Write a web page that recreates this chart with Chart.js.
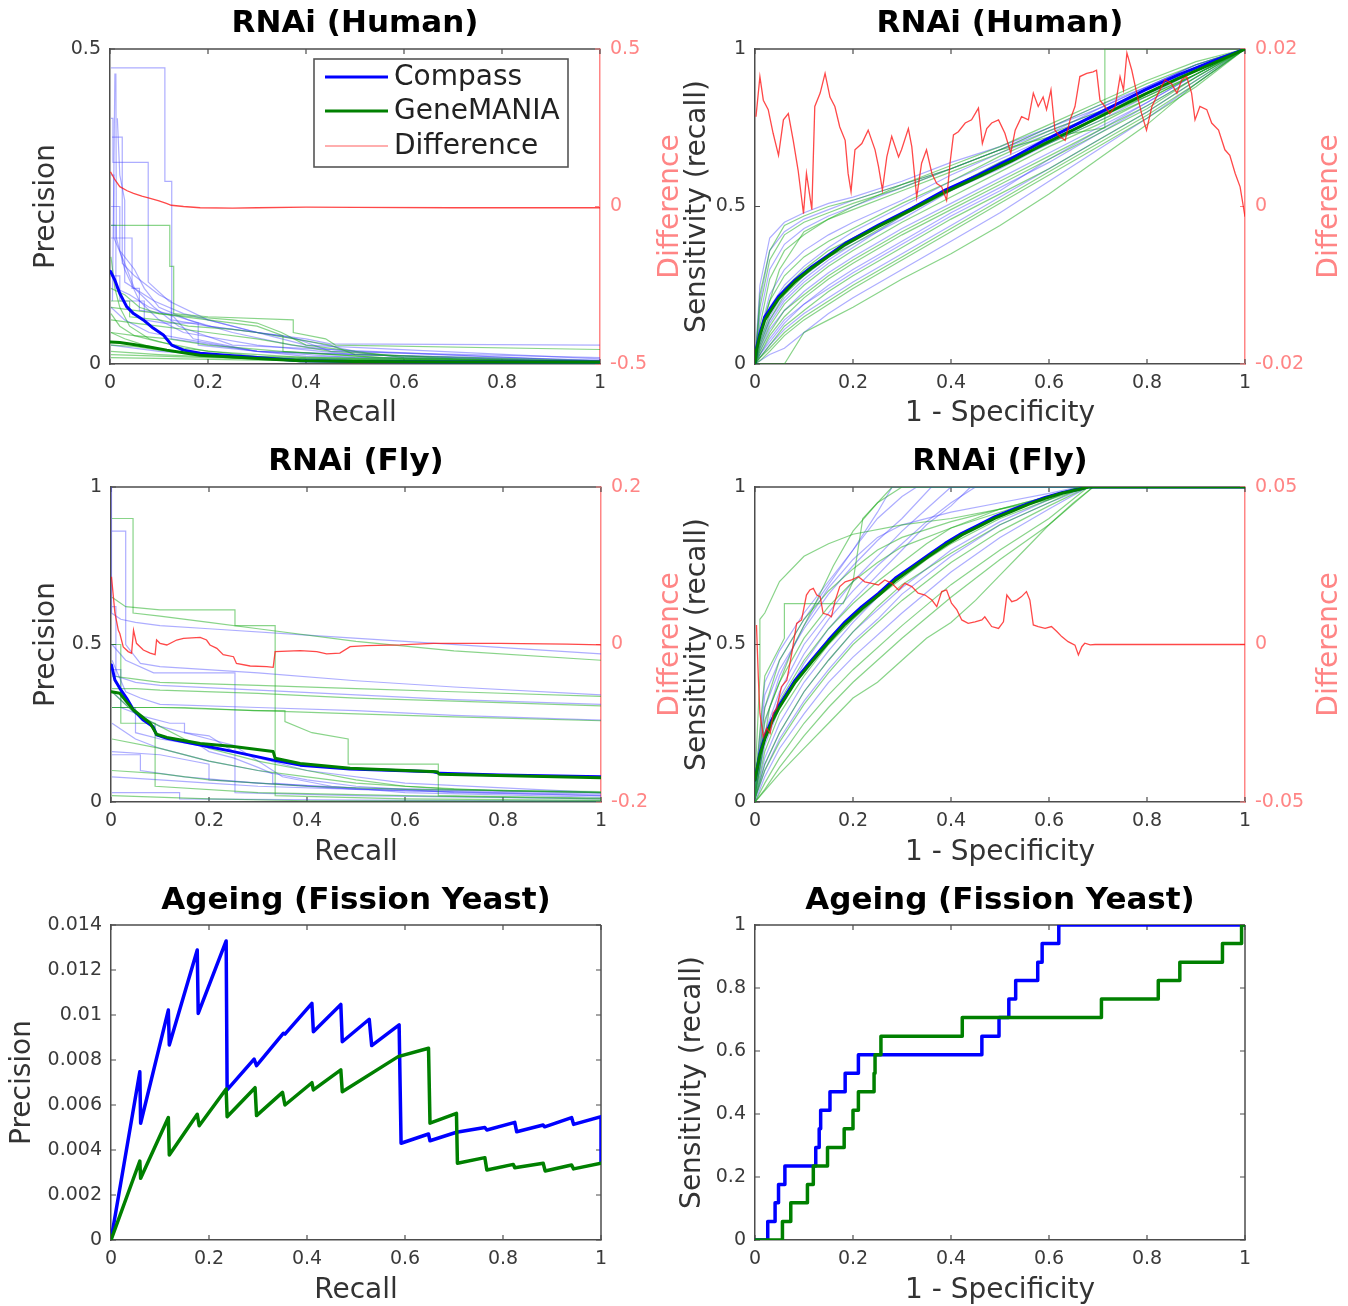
<!DOCTYPE html>
<html><head><meta charset="utf-8">
<script src="https://cdn.jsdelivr.net/npm/chart.js@4.4.1/dist/chart.umd.min.js"></script>
<style>
html,body{margin:0;padding:0;background:#fff;overflow:hidden;width:1348px;height:1306px;}
canvas{position:absolute;}
</style></head><body>
<canvas id="c1" style="left:0px;top:0px" width="700" height="440"></canvas>
<canvas id="c2" style="left:650px;top:0px" width="698" height="440"></canvas>
<canvas id="c3" style="left:0px;top:440px" width="700" height="430"></canvas>
<canvas id="c4" style="left:650px;top:440px" width="698" height="430"></canvas>
<canvas id="c5" style="left:0px;top:870px" width="700" height="436"></canvas>
<canvas id="c6" style="left:650px;top:870px" width="698" height="436"></canvas>
<script>
// ---------------- DATA ----------------
const panelTitles = ['RNAi (Human)','RNAi (Human)','RNAi (Fly)','RNAi (Fly)','Ageing (Fission Yeast)','Ageing (Fission Yeast)'];
const seriesNames = ['Compass','GeneMANIA','Difference'];
const prXTitle = 'Recall';
const rocXTitle = '1 - Specificity';
const prYTitle = 'Precision';
const rocYTitle = 'Sensitivity (recall)';
const diffTitle = 'Difference';

// Panel 1: RNAi (Human) precision-recall
const humanPrCompass = [[0.001,0.147],[0.01,0.133],[0.02,0.112],[0.034,0.091],[0.048,0.080],[0.068,0.070],[0.088,0.057],[0.109,0.046],[0.126,0.030],[0.15,0.022],[0.184,0.017],[0.25,0.013],[0.32,0.009],[0.388,0.005],[0.5,0.004],[0.7,0.003],[1,0.003]];
const humanPrGene = [[0.001,0.035],[0.02,0.034],[0.048,0.031],[0.08,0.027],[0.116,0.022],[0.15,0.018],[0.184,0.014],[0.25,0.011],[0.32,0.008],[0.388,0.005],[0.5,0.004],[0.7,0.003],[1,0.003]];
const humanPrDiff = [[0.001,0.11],[0.01,0.085],[0.02,0.063],[0.035,0.05],[0.048,0.042],[0.065,0.033],[0.082,0.026],[0.1,0.018],[0.115,0.01],[0.125,0.004],[0.15,0.0],[0.184,-0.004],[0.25,-0.005],[0.3,-0.004],[0.4,-0.002],[0.5,-0.003],[0.7,-0.004],[1,-0.004]];
const humanPrFaintBlue = [
 [[0.002,0.47],[0.112,0.47],[0.112,0.29],[0.126,0.29],[0.126,0.07],[0.2,0.06],[0.3,0.05],[0.4,0.04],[0.45,0.032],[1,0.03]],
 [[0.005,0.1],[0.01,0.46],[0.012,0.46],[0.013,0.2],[0.03,0.15],[0.06,0.1],[0.1,0.07],[0.15,0.05],[0.3,0.03],[0.5,0.015],[1,0.006]],
 [[0.002,0.39],[0.006,0.39],[0.006,0.32],[0.078,0.32],[0.078,0.13],[0.12,0.1],[0.2,0.07],[0.3,0.05],[0.38,0.04],[0.45,0.02],[1,0.01]],
 [[0.002,0.25],[0.02,0.25],[0.02,0.18],[0.05,0.15],[0.07,0.12],[0.1,0.09],[0.16,0.07],[0.25,0.05],[0.37,0.03],[0.6,0.01],[1,0.004]],
 [[0.015,0.39],[0.02,0.30],[0.03,0.26],[0.03,0.13],[0.09,0.1],[0.15,0.08],[0.25,0.06],[0.4,0.03],[1,0.008]],
 [[0.002,0.20],[0.045,0.20],[0.045,0.12],[0.06,0.12],[0.06,0.085],[0.12,0.08],[0.2,0.06],[0.35,0.045],[0.5,0.02],[1,0.005]],
 [[0.002,0.22],[0.012,0.22],[0.012,0.12],[0.04,0.11],[0.08,0.09],[0.13,0.075],[0.17,0.04],[0.3,0.02],[1,0.003]],
 [[0.002,0.09],[0.03,0.07],[0.08,0.05],[0.15,0.04],[0.3,0.02],[0.5,0.01],[1,0.003]],
 [[0.002,0.14],[0.02,0.14],[0.02,0.10],[0.07,0.10],[0.07,0.07],[0.11,0.065],[0.18,0.065],[0.18,0.03],[0.4,0.012],[1,0.004]],
 [[0.002,0.03],[0.1,0.02],[0.3,0.01],[1,0.002]],
 [[0.002,0.3],[0.008,0.3],[0.008,0.2],[0.03,0.16],[0.05,0.12],[0.09,0.09],[0.14,0.06],[0.25,0.03],[1,0.004]],
 [[0.004,0.36],[0.025,0.36],[0.025,0.16],[0.05,0.14],[0.1,0.11],[0.125,0.1],[0.125,0.04],[0.3,0.02],[1,0.003]]
];
const humanPrFaintGreen = [
 [[0.002,0.22],[0.122,0.22],[0.122,0.155],[0.13,0.155],[0.13,0.08],[0.2,0.075],[0.374,0.07],[0.374,0.05],[0.44,0.04],[0.46,0.03],[1,0.023]],
 [[0.002,0.09],[0.05,0.085],[0.1,0.08],[0.17,0.075],[0.25,0.07],[0.3,0.065],[0.35,0.05],[0.4,0.03],[0.6,0.01],[1,0.004]],
 [[0.002,0.12],[0.03,0.11],[0.06,0.09],[0.1,0.08],[0.2,0.07],[0.3,0.06],[0.353,0.045],[0.353,0.02],[0.6,0.008],[1,0.003]],
 [[0.002,0.07],[0.05,0.065],[0.1,0.06],[0.2,0.05],[0.3,0.04],[0.45,0.02],[0.7,0.008],[1,0.003]],
 [[0.002,0.05],[0.05,0.045],[0.12,0.04],[0.2,0.03],[0.35,0.02],[0.55,0.01],[1,0.002]],
 [[0.002,0.03],[0.05,0.028],[0.1,0.022],[0.2,0.015],[0.4,0.008],[1,0.002]],
 [[0.002,0.02],[0.1,0.015],[0.3,0.008],[0.6,0.004],[1,0.002]],
 [[0.002,0.015],[0.2,0.01],[0.5,0.004],[1,0.001]],
 [[0.002,0.1],[0.04,0.1],[0.04,0.075],[0.1,0.07],[0.16,0.06],[0.25,0.055],[0.3,0.05],[0.45,0.03],[0.5,0.015],[1,0.005]],
 [[0.002,0.01],[0.3,0.006],[1,0.001]],
 [[0.002,0.17],[0.01,0.12],[0.02,0.09],[0.04,0.06],[0.08,0.04],[0.15,0.025],[0.3,0.012],[1,0.002]],
 [[0.002,0.08],[0.02,0.06],[0.05,0.045],[0.1,0.035],[0.2,0.02],[0.4,0.01],[1,0.002]],
 [[0.002,0.05],[0.03,0.04],[0.07,0.03],[0.12,0.02],[0.25,0.01],[1,0.001]]
];

// Panel 2: RNAi (Human) ROC
const humanRocCompass = [[0,0],[0.003,0.05],[0.01,0.097],[0.02,0.15],[0.048,0.214],[0.082,0.267],[0.116,0.309],[0.184,0.383],[0.252,0.441],[0.32,0.494],[0.388,0.552],[0.456,0.6],[0.524,0.653],[0.592,0.711],[0.66,0.764],[0.728,0.817],[0.796,0.87],[0.864,0.918],[0.932,0.96],[1,1]];
const humanRocGene = [[0,0],[0.003,0.045],[0.01,0.09],[0.02,0.14],[0.048,0.207],[0.082,0.262],[0.116,0.305],[0.184,0.379],[0.252,0.437],[0.32,0.49],[0.388,0.546],[0.456,0.594],[0.524,0.645],[0.592,0.7],[0.66,0.751],[0.728,0.804],[0.796,0.857],[0.864,0.907],[0.932,0.953],[1,1]];
const humanRocDiffX = [0.002,0.010,0.017,0.027,0.037,0.048,0.058,0.068,0.078,0.088,0.099,0.105,0.116,0.122,0.133,0.143,0.153,0.163,0.173,0.184,0.19,0.196,0.204,0.218,0.231,0.245,0.252,0.26,0.269,0.279,0.293,0.299,0.313,0.32,0.33,0.34,0.35,0.361,0.371,0.381,0.391,0.398,0.405,0.415,0.429,0.442,0.456,0.464,0.473,0.483,0.497,0.51,0.522,0.531,0.544,0.558,0.568,0.578,0.588,0.595,0.604,0.612,0.622,0.633,0.643,0.653,0.663,0.677,0.69,0.697,0.704,0.714,0.724,0.735,0.745,0.752,0.759,0.769,0.779,0.789,0.799,0.81,0.823,0.837,0.85,0.861,0.871,0.881,0.891,0.898,0.908,0.922,0.932,0.946,0.959,0.969,0.98,0.99,1.0];
const humanRocDiffY = [0.0114,0.0165,0.0135,0.0123,0.0093,0.0065,0.011,0.0118,0.0084,0.0046,-0.0009,0.0042,-0.0004,0.0127,0.0144,0.0169,0.0139,0.0127,0.0101,0.0084,0.0042,0.0019,0.0072,0.008,0.0097,0.0072,0.0051,0.0021,0.0063,0.0089,0.0063,0.0072,0.0099,0.0076,0.0012,0.0055,0.0072,0.0042,0.0029,0.0025,0.0008,0.0055,0.0091,0.0095,0.0106,0.011,0.0125,0.008,0.0099,0.0106,0.011,0.0093,0.0068,0.0097,0.0114,0.011,0.0144,0.0127,0.0139,0.0123,0.0148,0.0097,0.0089,0.0084,0.011,0.0127,0.0165,0.0169,0.0171,0.0173,0.0135,0.0127,0.0118,0.0127,0.0165,0.0148,0.0195,0.0173,0.0144,0.0118,0.0097,0.0127,0.0144,0.0161,0.0156,0.0144,0.0161,0.0165,0.0144,0.011,0.0127,0.0123,0.0106,0.0097,0.0072,0.0065,0.0042,0.0025,-0.0013];
const humanRocGridX = [0,0.01,0.03,0.06,0.1,0.15,0.2,0.3,0.4,0.5,0.6,0.7,0.8,0.9,1];
const humanRocFaintBlue = [
 [0,0.25,0.40,0.45,0.48,0.51,0.53,0.58,0.64,0.69,0.75,0.82,0.88,0.95,1],
 [0,0.15,0.30,0.38,0.43,0.47,0.50,0.56,0.62,0.68,0.74,0.80,0.87,0.94,1],
 [0,0.08,0.18,0.25,0.31,0.37,0.42,0.50,0.58,0.65,0.72,0.79,0.86,0.93,1],
 [0,0.06,0.14,0.21,0.27,0.33,0.38,0.46,0.55,0.62,0.70,0.77,0.85,0.93,1],
 [0,0.04,0.11,0.17,0.23,0.29,0.34,0.43,0.51,0.59,0.67,0.75,0.83,0.92,1],
 [0,0.03,0.08,0.14,0.19,0.25,0.30,0.39,0.48,0.56,0.64,0.73,0.82,0.91,1],
 [0,0.02,0.06,0.11,0.16,0.21,0.26,0.35,0.44,0.53,0.62,0.71,0.80,0.90,1],
 [0,0.01,0.03,0.05,0.10,0.16,0.21,0.30,0.39,0.48,0.58,0.68,0.78,0.89,1],
 [0,0.10,0.22,0.30,0.36,0.41,0.45,0.52,0.60,0.67,0.73,0.81,0.88,0.95,1],
 [0,0.20,0.36,0.42,0.46,0.49,0.52,0.57,0.62,0.68,0.75,0.81,0.88,0.95,1],
 [0,0.05,0.13,0.20,0.26,0.32,0.37,0.47,0.56,0.64,0.71,0.78,0.86,0.93,1],
 [0,0.03,0.07,0.13,0.19,0.24,0.29,0.38,0.47,0.55,0.65,0.74,0.83,0.92,1],
 [0,0.07,0.15,0.23,0.28,0.34,0.39,0.48,0.56,0.63,0.70,0.78,0.86,0.94,1]
];
const humanRocFaintGreen = [
 [0,0.22,0.36,0.44,0.47,0.50,0.52,0.57,0.63,0.69,0.76,0.83,0.90,0.96,1],
 [0,0.12,0.27,0.36,0.41,0.46,0.49,0.55,0.61,0.67,0.74,0.80,0.86,0.93,1],
 [0,0.07,0.16,0.24,0.30,0.36,0.40,0.48,0.56,0.64,0.71,0.78,0.85,0.92,1],
 [0,0.05,0.12,0.19,0.25,0.31,0.36,0.45,0.53,0.61,0.69,0.76,0.84,0.92,1],
 [0,0.03,0.09,0.15,0.21,0.27,0.32,0.41,0.49,0.57,0.65,0.73,0.81,0.91,1],
 [0,0.02,0.06,0.12,0.17,0.23,0.28,0.37,0.46,0.54,0.62,0.71,0.80,0.90,1],
 [0,0.01,0.04,0.09,0.14,0.19,0.24,0.33,0.42,0.51,0.60,0.69,0.78,0.88,1],
 [0,0,0,0,0.10,0.14,0.18,0.27,0.35,0.44,0.54,0.65,0.76,0.89,1],
 [0,0.09,0.20,0.28,0.34,0.39,0.43,0.51,0.58,0.66,0.73,0.79,0.85,0.92,1],
 [0,0.18,0.33,0.41,0.45,0.48,0.51,0.56,0.62,0.68,0.75,0.82,0.89,0.95,1],
 [0,0.04,0.10,0.17,0.22,0.28,0.33,0.42,0.50,0.58,0.66,0.74,0.82,0.91,1],
 [0,0.02,0.05,0.10,0.15,0.20,0.25,0.34,0.43,0.52,0.61,0.70,0.79,0.89,1],
 [0,0.06,0.14,0.22,0.28,0.34,0.38,0.47,0.55,0.63,0.70,0.77,0.84,0.92,1]
];
const humanRocFaintGreenStep = [[0,0],[0.01,0.1],[0.05,0.3],[0.1,0.42],[0.2,0.5],[0.3,0.57],[0.4,0.62],[0.5,0.68],[0.6,0.72],[0.714,0.75],[0.714,1],[1,1]];

// Panel 3: RNAi (Fly) precision-recall
const flyPrCompass = [[0.001,0.435],[0.008,0.387],[0.018,0.361],[0.032,0.329],[0.046,0.292],[0.066,0.26],[0.086,0.239],[0.093,0.213],[0.114,0.202],[0.182,0.181],[0.25,0.16],[0.331,0.133],[0.386,0.117],[0.488,0.105],[0.658,0.096],[0.671,0.091],[0.794,0.086],[1,0.08]];
const flyPrGene = [[0.001,0.35],[0.018,0.345],[0.032,0.318],[0.046,0.292],[0.08,0.25],[0.093,0.215],[0.114,0.205],[0.182,0.186],[0.25,0.176],[0.331,0.16],[0.335,0.139],[0.386,0.122],[0.488,0.107],[0.665,0.096],[0.671,0.088],[1,0.077]];
const flyPrDiff = [[0.001,0.086],[0.008,0.040],[0.015,0.018],[0.018,0.014],[0.025,-0.003],[0.035,-0.009],[0.042,-0.011],[0.046,0.018],[0.052,0.0015],[0.066,-0.007],[0.08,-0.011],[0.09,-0.013],[0.093,0.0057],[0.1,0.0015],[0.114,-0.0006],[0.134,0.0057],[0.148,0.0078],[0.182,0.0091],[0.195,0.0057],[0.202,-0.0006],[0.216,-0.0049],[0.229,-0.013],[0.25,-0.0155],[0.256,-0.024],[0.284,-0.0273],[0.318,-0.0282],[0.331,-0.029],[0.335,-0.0091],[0.386,-0.0079],[0.42,-0.0091],[0.44,-0.012],[0.467,-0.011],[0.488,-0.0028],[0.522,-0.0015],[0.59,-0.0006],[0.658,0.0015],[0.794,0.0015],[0.93,0.0006],[1,-0.0006]];
const flyPrFaintBlue = [
 [[0.001,1],[0.001,0.6],[0.02,0.58],[0.05,0.57],[0.1,0.56],[0.2,0.55],[0.4,0.53],[0.6,0.51],[0.8,0.49],[1,0.47]],
 [[0.002,0.86],[0.03,0.86],[0.03,0.5],[0.06,0.44],[0.1,0.43],[0.3,0.41],[0.5,0.385],[0.7,0.365],[1,0.34]],
 [[0.002,0.62],[0.01,0.62],[0.01,0.4],[0.05,0.38],[0.1,0.37],[0.3,0.355],[0.5,0.34],[0.7,0.325],[1,0.31]],
 [[0.002,0.45],[0.03,0.35],[0.06,0.33],[0.1,0.31],[0.3,0.3],[0.5,0.29],[0.7,0.275],[1,0.26]],
 [[0.002,0.5],[0.03,0.45],[0.087,0.41],[0.253,0.41],[0.253,0.03],[0.5,0.02],[1,0.01]],
 [[0.002,0.35],[0.05,0.28],[0.1,0.24],[0.15,0.22],[0.2,0.2],[0.25,0.18],[0.3,0.13],[0.35,0.08],[0.45,0.05],[0.6,0.03],[1,0.015]],
 [[0.002,0.25],[0.05,0.2],[0.1,0.17],[0.2,0.13],[0.3,0.1],[0.4,0.07],[0.5,0.05],[0.7,0.03],[1,0.02]],
 [[0.002,0.15],[0.06,0.15],[0.06,0.1],[0.15,0.08],[0.3,0.06],[0.45,0.045],[0.6,0.035],[0.8,0.03],[1,0.025]],
 [[0.002,0.08],[0.1,0.07],[0.2,0.06],[0.3,0.05],[0.5,0.04],[1,0.03]],
 [[0.002,0.03],[0.14,0.03],[0.14,0.01],[0.5,0.006],[1,0.003]],
 [[0.002,0.3],[0.05,0.3],[0.05,0.22],[0.1,0.2],[0.18,0.18],[0.2,0.16],[0.25,0.14],[0.3,0.11],[0.33,0.09],[0.33,0.06],[0.5,0.04],[1,0.02]],
 [[0.002,0.42],[0.02,0.42],[0.02,0.3],[0.07,0.27],[0.12,0.25],[0.15,0.25],[0.15,0.22],[0.2,0.21],[0.25,0.16],[0.4,0.1],[0.6,0.06],[1,0.03]],
 [[0.002,0.16],[0.1,0.15],[0.2,0.12],[0.2,0.07],[0.3,0.06],[0.5,0.045],[1,0.03]]
];
const flyPrFaintGreen = [
 [[0.002,0.9],[0.045,0.9],[0.045,0.6],[0.1,0.59],[0.2,0.57],[0.3,0.55],[0.5,0.51],[0.7,0.48],[1,0.45]],
 [[0.002,0.65],[0.03,0.62],[0.1,0.61],[0.253,0.61],[0.253,0.56],[0.335,0.56],[0.335,0.02],[0.6,0.01],[1,0.005]],
 [[0.002,0.4],[0.05,0.39],[0.1,0.38],[0.3,0.37],[0.5,0.36],[0.7,0.35],[1,0.335]],
 [[0.002,0.36],[0.05,0.36],[0.1,0.355],[0.3,0.345],[0.5,0.33],[0.7,0.32],[1,0.305]],
 [[0.002,0.3],[0.1,0.3],[0.3,0.29],[0.5,0.28],[0.7,0.27],[1,0.258]],
 [[0.002,0.35],[0.05,0.28],[0.1,0.24],[0.15,0.2],[0.2,0.17],[0.3,0.13],[0.4,0.1],[0.5,0.07],[0.6,0.05],[0.8,0.035],[1,0.03]],
 [[0.002,0.2],[0.1,0.17],[0.2,0.13],[0.3,0.1],[0.4,0.08],[0.5,0.06],[0.7,0.04],[1,0.03]],
 [[0.002,0.3],[0.15,0.3],[0.29,0.29],[0.355,0.29],[0.355,0.255],[0.41,0.22],[0.484,0.2],[0.484,0.12],[0.668,0.12],[0.668,0.02],[1,0.012]],
 [[0.002,0.1],[0.1,0.09],[0.2,0.07],[0.4,0.05],[0.6,0.04],[1,0.033]],
 [[0.002,0.02],[0.2,0.01],[0.4,0.004],[1,0.003]],
 [[0.002,0.5],[0.02,0.5],[0.02,0.25],[0.09,0.25],[0.09,0.05],[0.3,0.03],[0.6,0.02],[1,0.01]]
];

// Panel 4: RNAi (Fly) ROC
const flyRocCompass = [[0,0.07],[0.01,0.154],[0.02,0.207],[0.034,0.26],[0.048,0.303],[0.082,0.387],[0.116,0.451],[0.15,0.514],[0.184,0.572],[0.218,0.62],[0.252,0.662],[0.286,0.71],[0.32,0.747],[0.354,0.784],[0.388,0.821],[0.422,0.853],[0.456,0.879],[0.49,0.906],[0.524,0.927],[0.558,0.948],[0.592,0.967],[0.626,0.982],[0.66,0.993],[0.68,1],[1,1]];
const flyRocGene = [[0,0.07],[0.01,0.15],[0.02,0.2],[0.034,0.253],[0.048,0.296],[0.082,0.38],[0.116,0.445],[0.15,0.507],[0.184,0.565],[0.218,0.613],[0.252,0.656],[0.286,0.703],[0.32,0.741],[0.354,0.779],[0.388,0.815],[0.422,0.848],[0.456,0.874],[0.49,0.901],[0.524,0.923],[0.558,0.945],[0.592,0.964],[0.626,0.98],[0.66,0.992],[0.68,1],[1,1]];
const flyRocDiff = [[0.003,0.0062],[0.007,-0.0113],[0.010,-0.0218],[0.017,-0.0293],[0.024,-0.0266],[0.031,-0.0282],[0.037,-0.0218],[0.044,-0.0203],[0.054,-0.0134],[0.065,-0.0113],[0.075,-0.0028],[0.085,0.0067],[0.095,0.0078],[0.105,0.0157],[0.112,0.0173],[0.119,0.0178],[0.126,0.0157],[0.133,0.0152],[0.139,0.0099],[0.15,0.0094],[0.156,0.0088],[0.163,0.0136],[0.173,0.0184],[0.184,0.0199],[0.197,0.0205],[0.211,0.0215],[0.224,0.0199],[0.238,0.0194],[0.252,0.0189],[0.265,0.0205],[0.279,0.0194],[0.293,0.0173],[0.306,0.0194],[0.32,0.0184],[0.333,0.0163],[0.347,0.0157],[0.361,0.0141],[0.371,0.012],[0.381,0.0168],[0.391,0.0173],[0.401,0.0131],[0.412,0.011],[0.422,0.0078],[0.435,0.0067],[0.449,0.0072],[0.463,0.0078],[0.469,0.0088],[0.483,0.0057],[0.497,0.0051],[0.507,0.0072],[0.514,0.0157],[0.524,0.0136],[0.534,0.0141],[0.544,0.0152],[0.554,0.0168],[0.561,0.0141],[0.568,0.0062],[0.578,0.0057],[0.592,0.0051],[0.605,0.0057],[0.616,0.0041],[0.626,0.0025],[0.639,0.0009],[0.653,-0.0002],[0.66,-0.0033],[0.667,-0.0007],[0.673,0.0004],[0.684,-0.0001],[0.694,0],[1,0]];
const flyRocFaintBlue = [
 [[0,0.05],[0.02,0.38],[0.05,0.48],[0.1,0.6],[0.15,0.7],[0.2,0.8],[0.25,0.92],[0.28,1],[1,1]],
 [[0,0.03],[0.02,0.3],[0.05,0.42],[0.1,0.55],[0.15,0.66],[0.2,0.75],[0.25,0.83],[0.3,0.9],[0.36,1],[1,1]],
 [[0,0.02],[0.02,0.22],[0.05,0.35],[0.1,0.5],[0.15,0.6],[0.2,0.7],[0.25,0.78],[0.3,0.86],[0.35,0.93],[0.4,1],[1,1]],
 [[0,0.02],[0.02,0.18],[0.05,0.3],[0.1,0.44],[0.15,0.55],[0.2,0.64],[0.25,0.72],[0.3,0.8],[0.35,0.88],[0.4,0.94],[0.44,1],[1,1]],
 [[0,0.01],[0.02,0.14],[0.05,0.25],[0.1,0.38],[0.15,0.48],[0.2,0.57],[0.25,0.65],[0.3,0.72],[0.4,0.83],[0.5,0.91],[0.6,0.97],[0.67,1],[1,1]],
 [[0,0.01],[0.02,0.1],[0.05,0.2],[0.1,0.32],[0.15,0.42],[0.2,0.51],[0.25,0.58],[0.3,0.66],[0.4,0.78],[0.5,0.88],[0.6,0.95],[0.68,1],[1,1]],
 [[0,0],[0.02,0.08],[0.05,0.17],[0.1,0.28],[0.15,0.38],[0.2,0.46],[0.3,0.6],[0.4,0.73],[0.5,0.84],[0.6,0.93],[0.68,1],[1,1]],
 [[0,0.02],[0.02,0.25],[0.05,0.4],[0.1,0.56],[0.15,0.68],[0.2,0.77],[0.25,0.84],[0.3,0.88],[0.4,0.92],[0.5,0.95],[0.6,0.98],[0.66,1],[1,1]],
 [[0,0.02],[0.02,0.2],[0.05,0.33],[0.1,0.47],[0.15,0.58],[0.2,0.67],[0.25,0.75],[0.3,0.82],[0.35,0.89],[0.4,0.95],[0.45,1],[1,1]],
 [[0,0.01],[0.02,0.12],[0.05,0.22],[0.1,0.35],[0.15,0.45],[0.2,0.54],[0.3,0.68],[0.4,0.8],[0.5,0.89],[0.6,0.96],[0.66,1],[1,1]],
 [[0,0.04],[0.02,0.34],[0.05,0.45],[0.1,0.58],[0.15,0.69],[0.2,0.8],[0.25,0.9],[0.3,0.97],[0.33,1],[1,1]]
];
const flyRocFaintGreen = [
 [[0,0.07],[0.01,0.4],[0.01,0.58],[0.02,0.6],[0.05,0.7],[0.1,0.78],[0.15,0.82],[0.2,0.85],[0.3,0.88],[0.4,0.9],[0.5,0.93],[0.6,0.96],[0.66,1],[1,1]],
 [[0,0],[0.05,0.09],[0.1,0.17],[0.15,0.25],[0.2,0.33],[0.25,0.38],[0.3,0.45],[0.35,0.52],[0.4,0.57],[0.45,0.64],[0.5,0.72],[0.55,0.8],[0.6,0.88],[0.65,0.95],[0.69,1],[1,1]],
 [[0,0.05],[0.02,0.4],[0.06,0.52],[0.06,0.63],[0.18,0.63],[0.2,0.7],[0.22,0.9],[0.28,1],[1,1]],
 [[0,0.02],[0.02,0.2],[0.05,0.32],[0.1,0.45],[0.15,0.55],[0.2,0.63],[0.25,0.7],[0.3,0.76],[0.35,0.82],[0.4,0.87],[0.5,0.93],[0.6,0.97],[0.67,1],[1,1]],
 [[0,0.01],[0.02,0.12],[0.05,0.22],[0.1,0.35],[0.15,0.45],[0.2,0.54],[0.25,0.62],[0.3,0.69],[0.4,0.79],[0.5,0.88],[0.6,0.95],[0.67,1],[1,1]],
 [[0,0],[0.02,0.06],[0.05,0.14],[0.1,0.25],[0.15,0.34],[0.2,0.42],[0.3,0.56],[0.4,0.69],[0.5,0.8],[0.6,0.9],[0.68,1],[1,1]],
 [[0,0.03],[0.02,0.3],[0.05,0.45],[0.1,0.58],[0.15,0.67],[0.2,0.74],[0.25,0.8],[0.3,0.84],[0.4,0.89],[0.5,0.93],[0.6,0.97],[0.68,1],[1,1]],
 [[0,0.02],[0.03,0.3],[0.08,0.5],[0.12,0.62],[0.16,0.75],[0.2,0.86],[0.25,0.95],[0.3,1],[1,1]],
 [[0,0.01],[0.02,0.16],[0.05,0.28],[0.1,0.4],[0.15,0.5],[0.2,0.58],[0.25,0.65],[0.3,0.71],[0.35,0.77],[0.4,0.82],[0.5,0.9],[0.6,0.96],[0.68,1],[1,1]],
 [[0,0.01],[0.02,0.1],[0.05,0.19],[0.1,0.31],[0.15,0.41],[0.2,0.5],[0.3,0.64],[0.4,0.76],[0.5,0.86],[0.6,0.94],[0.68,1],[1,1]],
 [[0,0.03],[0.02,0.26],[0.05,0.38],[0.1,0.52],[0.15,0.62],[0.2,0.7],[0.25,0.76],[0.3,0.81],[0.4,0.87],[0.5,0.92],[0.6,0.97],[0.66,1],[1,1]],
 [[0,0],[0.02,0.04],[0.05,0.11],[0.1,0.21],[0.15,0.3],[0.2,0.38],[0.3,0.52],[0.4,0.65],[0.5,0.77],[0.6,0.88],[0.66,0.96],[0.69,1],[1,1]]
];

// Panel 5: Ageing (Fission Yeast) precision-recall
const yeastPrCompass = [[0,0],[0.0588,0.00748],[0.0605,0.00519],[0.117,0.01022],[0.119,0.00867],[0.176,0.01289],[0.178,0.01007],[0.235,0.01329],[0.237,0.00667],[0.292,0.00804],[0.297,0.00775],[0.352,0.00919],[0.355,0.00915],[0.41,0.01052],[0.413,0.00926],[0.469,0.01047],[0.472,0.00881],[0.527,0.00981],[0.532,0.00864],[0.588,0.00956],[0.592,0.0043],[0.648,0.00471],[0.651,0.00441],[0.705,0.00479],[0.763,0.005],[0.767,0.00489],[0.824,0.00523],[0.828,0.00481],[0.882,0.00511],[0.885,0.00503],[0.94,0.00544],[0.944,0.00514],[1.0,0.00548],[1.0,0.00341]];
const yeastPrGene = [[0,0],[0.0588,0.00351],[0.0605,0.00274],[0.117,0.00544],[0.119,0.00378],[0.176,0.00559],[0.18,0.00508],[0.235,0.00671],[0.237,0.00548],[0.294,0.00677],[0.297,0.00553],[0.35,0.00656],[0.355,0.006],[0.41,0.00699],[0.413,0.00667],[0.469,0.00756],[0.472,0.00659],[0.586,0.00815],[0.648,0.00852],[0.651,0.00519],[0.705,0.00563],[0.707,0.00341],[0.763,0.00366],[0.767,0.00311],[0.821,0.00336],[0.824,0.00321],[0.882,0.00341],[0.886,0.00307],[0.94,0.00333],[0.944,0.00316],[1.0,0.00341]];

// Panel 6: Ageing (Fission Yeast) ROC (step corners)
const yeastRocCompass = [[0,0],[0.026,0.059],[0.041,0.118],[0.048,0.176],[0.061,0.235],[0.124,0.294],[0.131,0.353],[0.134,0.412],[0.153,0.471],[0.184,0.529],[0.211,0.588],[0.463,0.647],[0.498,0.706],[0.518,0.765],[0.532,0.824],[0.577,0.882],[0.586,0.941],[0.620,1],[1,1]];
const yeastRocGene = [[0,0],[0.056,0.059],[0.073,0.118],[0.107,0.176],[0.119,0.235],[0.148,0.294],[0.182,0.353],[0.2,0.412],[0.211,0.471],[0.243,0.529],[0.245,0.588],[0.257,0.647],[0.423,0.706],[0.707,0.765],[0.823,0.824],[0.867,0.882],[0.954,0.941],[0.993,1],[1,1]];

// ---------------- STYLE ----------------
const FONT = "'DejaVu Sans', Verdana, sans-serif";
const BLUE = '#0000ff', GREEN = '#008000';
const FAINT_B = 'rgba(60,60,255,0.42)', FAINT_G = 'rgba(20,170,20,0.5)';
const RED = 'rgba(255,20,20,0.78)', PINK = '#ff8585', LEG_RED = 'rgba(255,60,60,0.55)';
const FRAME = '#4d4d4d', TICKC = '#3a3a3a', LABC = '#333333';
Chart.defaults.font.family = FONT;

const P = a => a.map(p => ({x: p[0], y: p[1]}));
const zip = (xs, ys) => xs.map((x, i) => [x, ys[i]]);
const fmt = v => String(Number(Number(v).toFixed(4)));

function thick(arr, color, w, stepped) {
  return {data: P(arr), borderColor: color, borderWidth: w, pointRadius: 0, fill: false, tension: 0,
    stepped: stepped || false, borderJoinStyle: 'round', borderCapStyle: 'round', yAxisID: 'y'};
}
function faint(arr, color) {
  return {data: P(arr), borderColor: color, borderWidth: 1.2, pointRadius: 0, fill: false, tension: 0, yAxisID: 'y'};
}
function diff(arr) {
  return {data: P(arr), borderColor: RED, borderWidth: 1.3, pointRadius: 0, fill: false, tension: 0, yAxisID: 'y2'};
}

const framePlugin = {
  id: 'frame',
  beforeDatasetsDraw(chart) {
    const {ctx, chartArea: a, scales} = chart;
    const L = 5;
    ctx.save();
    ctx.lineWidth = 1.5; ctx.strokeStyle = FRAME;
    ctx.beginPath();
    ctx.moveTo(a.left, a.top); ctx.lineTo(a.right, a.top);
    if (!scales.y2) { ctx.moveTo(a.right, a.top); ctx.lineTo(a.right, a.bottom); }
    ctx.stroke();
    ctx.lineWidth = 1.2;
    ctx.beginPath();
    scales.x.ticks.forEach(t => {
      const px = scales.x.getPixelForValue(t.value);
      ctx.moveTo(px, a.bottom); ctx.lineTo(px, a.bottom - L);
      ctx.moveTo(px, a.top); ctx.lineTo(px, a.top + L);
    });
    scales.y.ticks.forEach(t => {
      const py = scales.y.getPixelForValue(t.value);
      ctx.moveTo(a.left, py); ctx.lineTo(a.left + L, py);
      if (!scales.y2) { ctx.moveTo(a.right, py); ctx.lineTo(a.right - L, py); }
    });
    ctx.stroke();
    if (scales.y2) {
      ctx.strokeStyle = PINK; ctx.beginPath();
      scales.y2.ticks.forEach(t => {
        const py = scales.y2.getPixelForValue(t.value);
        ctx.moveTo(a.right, py); ctx.lineTo(a.right - L, py);
      });
      ctx.stroke();
    }
    ctx.restore();
  },
  afterDraw(chart, args, opts) {
    if (!opts.diffX) return;
    const {ctx, chartArea: a} = chart;
    ctx.save();
    ctx.translate(opts.diffX, (a.top + a.bottom) / 2);
    ctx.rotate(-Math.PI / 2);
    ctx.fillStyle = PINK;
    ctx.font = "28px " + FONT;
    ctx.textAlign = 'center'; ctx.textBaseline = 'middle';
    ctx.fillText(diffTitle, 0, 0);
    ctx.restore();
  }
};

const legendPlugin = {
  id: 'boxLegend',
  afterDraw(chart, args, opts) {
    if (!opts.show) return;
    const {ctx} = chart;
    const x0 = 314, y0 = 59, w = 254, h = 108;
    ctx.save();
    ctx.fillStyle = '#fff'; ctx.fillRect(x0, y0, w, h);
    ctx.strokeStyle = '#555'; ctx.lineWidth = 1.6; ctx.strokeRect(x0, y0, w, h);
    const items = [[seriesNames[0], BLUE, 3], [seriesNames[1], GREEN, 3], [seriesNames[2], LEG_RED, 1.5]];
    const ys = [77, 111, 146];
    ctx.font = "28px " + FONT; ctx.textBaseline = 'middle'; ctx.textAlign = 'left';
    items.forEach((it, i) => {
      ctx.strokeStyle = it[1]; ctx.lineWidth = it[2];
      ctx.beginPath(); ctx.moveTo(325, ys[i]); ctx.lineTo(388, ys[i]); ctx.stroke();
      ctx.fillStyle = '#222'; ctx.fillText(it[0], 394, ys[i] + 1);
    });
    ctx.restore();
  }
};

function makePanel(id, c) {
  const scales = {
    x: {type: 'linear', position: 'bottom', min: 0, max: 1,
      ticks: {stepSize: 0.2, padding: 8, color: TICKC, font: {size: 19}, callback: fmt, maxRotation: 0, autoSkip: false},
      grid: {display: false, drawTicks: false},
      border: {display: true, color: FRAME, width: 1.5},
      title: {display: true, text: c.xTitle, color: LABC, font: {size: 28, lineHeight: 1}, padding: {top: 0, bottom: c.xTitlePad}},
      afterFit: s => { s.height = c.xH; }},
    y: {type: 'linear', position: 'left', min: c.yMin, max: c.yMax,
      ticks: {stepSize: c.yStep, padding: 9, color: TICKC, font: {size: 19}, callback: fmt, autoSkip: false},
      grid: {display: false, drawTicks: false},
      border: {display: true, color: FRAME, width: 1.5},
      title: {display: true, text: c.yTitle, color: LABC, font: {size: 28, lineHeight: 1}, padding: {top: c.yTitlePad, bottom: 0}},
      afterFit: s => { s.width = c.yW; }}
  };
  if (c.y2) {
    scales.y2 = {type: 'linear', position: 'right', min: -c.y2, max: c.y2,
      ticks: {stepSize: c.y2, padding: 10, color: PINK, font: {size: 19}, callback: fmt, autoSkip: false},
      grid: {display: false, drawTicks: false},
      border: {display: true, color: PINK, width: 1.5},
      title: {display: false},
      afterFit: s => { s.width = c.y2W; }};
  }
  new Chart(document.getElementById(id), {
    type: 'line',
    data: {datasets: c.datasets},
    options: {
      responsive: false, animation: false, devicePixelRatio: 1, events: [],
      layout: {padding: {left: 0, right: c.padR || 0, top: 0, bottom: 0}},
      scales,
      plugins: {
        legend: {display: false}, tooltip: {enabled: false},
        title: {display: true, text: c.title, fullSize: false, color: '#000',
          font: {size: 31, weight: 'bold', lineHeight: 1.2}, padding: {top: c.tTop, bottom: c.tBot}},
        frame: {diffX: c.diffX || 0},
        boxLegend: {show: !!c.legend}
      }
    },
    plugins: [framePlugin, legendPlugin]
  });
}

// Panel 1
makePanel('c1', {
  title: panelTitles[0], xTitle: prXTitle, yTitle: prYTitle, yMin: 0, yMax: 0.5, yStep: 0.5, y2: 0.5,
  yW: 110, y2W: 100, xH: 76, tTop: 5.4, tBot: 6.4, xTitlePad: 12, yTitlePad: 33, diffX: 671, legend: true,
  datasets: [diff(humanPrDiff), thick(humanPrGene, GREEN, 3), thick(humanPrCompass, BLUE, 3)]
    .concat(humanPrFaintGreen.map(a => faint(a, FAINT_G)))
    .concat(humanPrFaintBlue.map(a => faint(a, FAINT_B)))
});
// Panel 2
makePanel('c2', {
  title: panelTitles[1], xTitle: rocXTitle, yTitle: rocYTitle, yMin: 0, yMax: 1, yStep: 0.5, y2: 0.02,
  yW: 105, y2W: 103, xH: 76, tTop: 5.4, tBot: 6.4, xTitlePad: 12, yTitlePad: 34, diffX: 680,
  datasets: [diff(zip(humanRocDiffX, humanRocDiffY)), thick(humanRocGene, GREEN, 3), thick(humanRocCompass, BLUE, 3)]
    .concat(humanRocFaintGreen.map(a => faint(zip(humanRocGridX, a), FAINT_G)))
    .concat([faint(humanRocFaintGreenStep, FAINT_G)])
    .concat(humanRocFaintBlue.map(a => faint(zip(humanRocGridX, a), FAINT_B)))
});
// Panel 3
makePanel('c3', {
  title: panelTitles[2], xTitle: prXTitle, yTitle: prYTitle, yMin: 0, yMax: 1, yStep: 0.5, y2: 0.2,
  yW: 111, y2W: 99, xH: 68, tTop: 3.4, tBot: 6.4, xTitlePad: 3, yTitlePad: 33, diffX: 671,
  datasets: [diff(flyPrDiff), thick(flyPrGene, GREEN, 3), thick(flyPrCompass, BLUE, 3)]
    .concat(flyPrFaintGreen.map(a => faint(a, FAINT_G)))
    .concat(flyPrFaintBlue.map(a => faint(a, FAINT_B)))
});
// Panel 4
makePanel('c4', {
  title: panelTitles[3], xTitle: rocXTitle, yTitle: rocYTitle, yMin: 0, yMax: 1, yStep: 0.5, y2: 0.05,
  yW: 105, y2W: 103, xH: 68, tTop: 3.4, tBot: 6.4, xTitlePad: 3, yTitlePad: 34, diffX: 680,
  datasets: [diff(flyRocDiff), thick(flyRocGene, GREEN, 3), thick(flyRocCompass, BLUE, 3)]
    .concat(flyRocFaintGreen.map(a => faint(a, FAINT_G)))
    .concat(flyRocFaintBlue.map(a => faint(a, FAINT_B)))
});
// Panel 5
makePanel('c5', {
  title: panelTitles[4], xTitle: prXTitle, yTitle: prYTitle, yMin: 0, yMax: 0.014, yStep: 0.002,
  yW: 111, padR: 99, xH: 66, tTop: 12.4, tBot: 5.4, xTitlePad: 1, yTitlePad: 9,
  datasets: [thick(yeastPrGene, GREEN, 3.5), thick(yeastPrCompass, BLUE, 3.5)]
});
// Panel 6
makePanel('c6', {
  title: panelTitles[5], xTitle: rocXTitle, yTitle: rocYTitle, yMin: 0, yMax: 1, yStep: 0.2,
  yW: 105, padR: 103, xH: 66, tTop: 12.4, tBot: 5.4, xTitlePad: 1, yTitlePad: 29,
  datasets: [thick(yeastRocGene, GREEN, 3.5, 'before'), thick(yeastRocCompass, BLUE, 3.5, 'before')]
});
</script>
</body></html>
